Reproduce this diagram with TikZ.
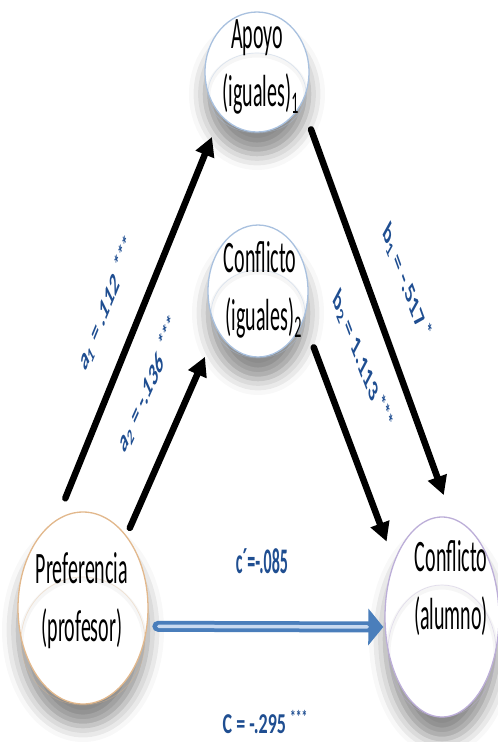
\documentclass[tikz,border=0pt]{standalone}
\usepackage{fontspec}
\setmainfont{Carlito}
\usetikzlibrary{arrows.meta,shapes.geometric,shadows.blur}

\definecolor{coefblue}{HTML}{1F4E91}
\definecolor{ringblue}{HTML}{A9C1DF}
\definecolor{ringtan}{HTML}{E2B88C}
\definecolor{ringlilac}{HTML}{BCAED8}
\definecolor{pathblue}{HTML}{4A7EBB}
\definecolor{pathlight}{HTML}{C9DAF0}

% significance stars
\newcommand{\sigstars}[1]{\raisebox{0.32em}{\fontsize{11.5}{12}\selectfont #1}}

\tikzset{
  var/.style={ellipse, draw=#1, line width=1.3pt, fill=white, inner sep=0pt, outer sep=0pt,
    blur shadow={shadow xshift=0pt, shadow yshift=-22pt, shadow blur radius=16pt, shadow opacity=45}},
  innerring/.style={draw=#1, line width=0.7pt, opacity=0.35},
  innerhaze/.style={draw=gray, line width=5pt, opacity=0.07},
  vartext/.style={inner sep=0pt, font=\fontsize{20}{25.8}\selectfont},
  coef/.style={inner sep=0pt, text=coefblue, font=\bfseries\fontsize{14.5}{18}\selectfont},
  coefbold/.style={inner sep=0pt, text=coefblue, font=\bfseries\fontsize{16}{18}\selectfont},
  effect/.style={line width=6.5pt, line cap=round, -{Triangle[length=19pt,width=19pt]}},
}

\begin{document}
\begin{tikzpicture}[x=1pt,y=-1pt]
\useasboundingbox (0,0) rectangle (498,742);

% variables
\node[var=ringblue,  minimum width=104pt, minimum height=120pt] (apoyo) at (257,72) {};
\node[var=ringblue,  minimum width=100pt, minimum height=132pt] (config) at (258,291) {};
\node[var=ringtan,   minimum width=130pt, minimum height=192pt] (pref) at (83,608) {};
\node[var=ringlilac, minimum width=114pt, minimum height=200pt] (alum) at (442,617) {};

% glossy inner rings
\begin{scope}
  \clip (apoyo.center) ellipse [x radius=51, y radius=59];
  \draw[innerhaze] (257,95) ellipse [x radius=49, y radius=40];
\end{scope}
\begin{scope}
  \clip (config.center) ellipse [x radius=49, y radius=65];
  \draw[innerhaze] (258,316) ellipse [x radius=47, y radius=44];
\end{scope}
\begin{scope}
  \clip (pref.center) ellipse [x radius=64, y radius=95];
  \draw[innerhaze] (83,643) ellipse [x radius=62, y radius=64];
\end{scope}
\begin{scope}
  \clip (alum.center) ellipse [x radius=56, y radius=99];
  \draw[innerhaze] (442,653) ellipse [x radius=54, y radius=66];
\end{scope}
\draw[innerring=ringblue]  (257,93)  ellipse [x radius=49, y radius=40];
\draw[innerring=ringblue]  (258,314) ellipse [x radius=47, y radius=44];
\draw[innerring=ringtan]   (83,641)  ellipse [x radius=62, y radius=64];
\draw[innerring=ringlilac] (442,651) ellipse [x radius=54, y radius=66];

% variable names
\node[vartext] (apoyoT) at (257,66)
  {\scalebox{1}[2.25]{\begin{tabular}{@{}c@{}}Apoyo\\(iguales)\rlap{\textsubscript{1}}\end{tabular}}};
\node[vartext] (configT) at (260,290)
  {\scalebox{1}[2.25]{\begin{tabular}{@{}c@{}}Conflicto\\(iguales)\rlap{\textsubscript{2}}\end{tabular}}};
\node[vartext] (prefT) at (82,601)
  {\scalebox{1}[2.25]{\begin{tabular}{@{}c@{}}Preferencia\\(profesor)\end{tabular}}};
\node[vartext] (alumT) at (451,589)
  {\scalebox{1}[2.25]{\begin{tabular}{@{}c@{}}Conflicto\\(alumno)\end{tabular}}};

% indirect paths
\draw[effect, shorten <=24pt, shorten >=23.5pt] (pref.107.8) -- (apoyo.230.1);
\draw[effect, shorten <=9pt,  shorten >=30.3pt] (pref.59.8)  -- (config.223.3);
\draw[effect, shorten <=28pt, shorten >=25pt]   (apoyo.325.1) -- (alum.84.6);
\draw[effect, shorten <=30pt, shorten >=22pt]   (config.328.4) -- (alum.131.6);

% direct path
\draw[pathblue, line width=11pt, line cap=round, -{Triangle[length=15pt,width=36pt]},
  shorten <=11pt, shorten >=2pt] (pref.-16.6) -- (alum.190);
\draw[pathlight, line width=3.5pt, line cap=round, shorten <=12pt, shorten >=18pt]
  (pref.-16.6) -- (alum.190);

% coefficients
\node[coef] (a1) at (106,304) {\scalebox{1}[2.25]{\rotatebox{47.4}{a\textsubscript{1} = .112 \sigstars{***}}}};
\node[coef] (a2) at (148,385) {\scalebox{1}[2.25]{\rotatebox{44.9}{a\textsubscript{2} = -.136 \sigstars{***}}}};
\node[coef] (b1) at (407,283) {\scalebox{1}[2.25]{\rotatebox{-50.9}{b\textsubscript{1} = -.517 \sigstars{*}}}};
\node[coef] (b2) at (363,362) {\scalebox{1}[2.25]{\rotatebox{-49.8}{b\textsubscript{2} = 1.113 \sigstars{***}}}};
\node[coefbold] (cprime) at (262,561) {\scalebox{1}[2.25]{c´=-.085}};
\node[coefbold, font=\bfseries\fontsize{18}{20}\selectfont] (ctotal) at (265,722)
  {\scalebox{1}[1.6]{C = -.295 \sigstars{***}}};
\end{tikzpicture}
\end{document}
